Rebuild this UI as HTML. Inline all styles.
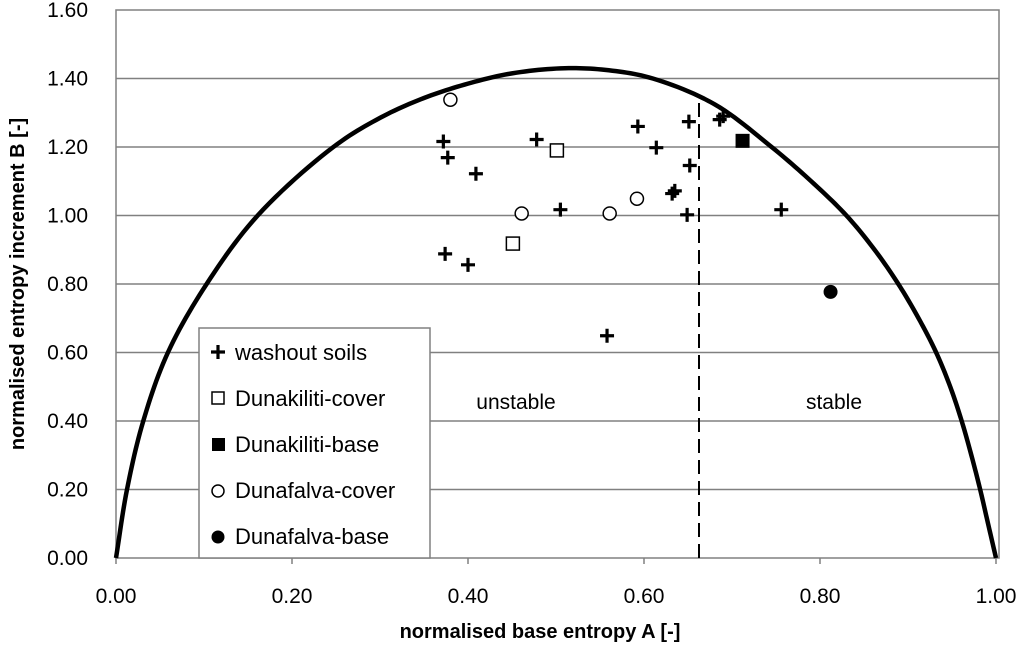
<!DOCTYPE html>
<html><head><meta charset="utf-8"><style>
html,body{margin:0;padding:0;background:#fff;}
svg text{font-family:"Liberation Sans",sans-serif;fill:#000;}
</style></head><body>
<svg id="chart" width="1024" height="651" viewBox="0 0 1024 651" xmlns="http://www.w3.org/2000/svg"></svg>
<script>
const yTicks=[0,0.2,0.4,0.6,0.8,1.0,1.2,1.4,1.6];
const xTicks=[0,0.2,0.4,0.6,0.8,1.0];
const curveA=[0,0.0125,0.031,0.059,0.103,0.161,0.247,0.30,0.35,0.40,0.45,0.51,0.56,0.61,0.68,0.745,0.790,0.830,0.862,0.889,0.912,0.932,0.948,0.961,0.972,0.982,0.991,1.0];
const curveB=[0,0.2,0.4,0.6,0.8,1.0,1.2,1.285,1.343,1.385,1.415,1.43,1.424,1.40,1.325,1.2,1.1,1.0,0.9,0.8,0.7,0.6,0.5,0.4,0.3,0.2,0.1,0];
const washA=[0.372,0.377,0.409,0.478,0.593,0.614,0.651,0.686,0.690,0.652,0.632,0.635,0.505,0.649,0.374,0.400,0.756,0.558];
const washB=[1.216,1.169,1.122,1.222,1.260,1.198,1.274,1.280,1.290,1.146,1.064,1.072,1.017,1.002,0.888,0.856,1.017,0.649];
const dkCoverA=[0.501,0.451], dkCoverB=[1.19,0.918];
const dkBaseA=[0.712], dkBaseB=[1.218];
const dfCoverA=[0.380,0.461,0.561,0.592], dfCoverB=[1.338,1.006,1.006,1.049];
const dfBaseA=[0.812], dfBaseB=[0.777];
const stableA=0.6625, stableTop=1.33;

const X0=116,X1=996,Y0=558,Y1=10;
const sx=a=>X0+(X1-X0)*a;
const sy=b=>Y0-(Y0-Y1)*b/1.6;
const svg=document.getElementById('chart');
const NS='http://www.w3.org/2000/svg';
function mk(t,at,p){const e=document.createElementNS(NS,t);for(const k in at)e.setAttribute(k,at[k]);(p||svg).appendChild(e);return e;}

yTicks.forEach(v=>{
  if(v<1.6&&v>0){const g=mk('line',{x1:X0,x2:999,y1:sy(v),y2:sy(v),stroke:'#808080','stroke-width':1.5});
  
  }
  const t=mk('text',{x:88,y:sy(v)+7,'text-anchor':'end','font-size':21});
  t.textContent=v.toFixed(2);
  
  
});
const frame=mk('rect',{x:X0,y:10,width:999-X0,height:Y0-10,fill:'none',stroke:'#808080','stroke-width':1.5});


xTicks.forEach(v=>{
  const tk=mk('line',{x1:sx(v),x2:sx(v),y1:Y0,y2:Y0+6,stroke:'#808080','stroke-width':1.5});
  
  
  const t=mk('text',{x:sx(v),y:603,'text-anchor':'middle','font-size':21});
  t.textContent=v.toFixed(2);
  
  
});
const P=curveA.map((a,i)=>[sx(a),sy(curveB[i])]);
function crPoint(p0,p1,p2,p3,t){
  const td=(a,b)=>Math.pow(Math.hypot(b[0]-a[0],b[1]-a[1]),0.5)||1e-4;
  const t0=0,t1=t0+td(p0,p1),t2=t1+td(p1,p2),t3=t2+td(p2,p3);
  const tt=t1+(t2-t1)*t;
  const L=(a,b,ta,tb)=>[a[0]*(tb-tt)/(tb-ta)+b[0]*(tt-ta)/(tb-ta),a[1]*(tb-tt)/(tb-ta)+b[1]*(tt-ta)/(tb-ta)];
  const A1=L(p0,p1,t0,t1),A2=L(p1,p2,t1,t2),A3=L(p2,p3,t2,t3);
  const B1=L(A1,A2,t0,t2),B2=L(A2,A3,t1,t3);
  return L(B1,B2,t1,t2);
}
let pts=[P[0]];
for(let i=0;i<P.length-1;i++){
  const p0=i>0?P[i-1]:[2*P[0][0]-P[1][0],2*P[0][1]-P[1][1]];
  const p3=i+2<P.length?P[i+2]:[2*P[i+1][0]-P[i][0],2*P[i+1][1]-P[i][1]];
  for(let k=1;k<=12;k++)pts.push(crPoint(p0,P[i],P[i+1],p3,k/12));
}
const c=mk('polyline',{points:pts.map(p=>p[0].toFixed(2)+','+p[1].toFixed(2)).join(' '),fill:'none',stroke:'#000','stroke-width':4.5,'stroke-linejoin':'round'});


const dl=mk('line',{x1:sx(stableA),x2:sx(stableA),y1:Y0,y2:sy(stableTop),stroke:'#000','stroke-width':2,'stroke-dasharray':'14,7'});



function cross(x,y,p){return mk('path',{d:`M${x-7},${y}H${x+7}M${x},${y-7}V${y+7}`,stroke:'#000','stroke-width':3.2,fill:'none'},p);}
washA.forEach((a,i)=>{const e=cross(sx(a),sy(washB[i]));
 
 });
dkCoverA.forEach((a,i)=>{const e=mk('rect',{x:sx(a)-6.5,y:sy(dkCoverB[i])-6.5,width:13,height:13,fill:'#fff',stroke:'#000','stroke-width':1.5});
 
 });
dkBaseA.forEach((a,i)=>{const e=mk('rect',{x:sx(a)-7,y:sy(dkBaseB[i])-7,width:14,height:14,fill:'#000'});
 
 });
dfCoverA.forEach((a,i)=>{const e=mk('circle',{cx:sx(a),cy:sy(dfCoverB[i]),r:6.5,fill:'#fff',stroke:'#000','stroke-width':1.5});
 
 });
dfBaseA.forEach((a,i)=>{const e=mk('circle',{cx:sx(a),cy:sy(dfBaseB[i]),r:7,fill:'#000'});
 
 });

let t=mk('text',{x:516,y:409,'text-anchor':'middle','font-size':21});t.textContent='unstable';


t=mk('text',{x:834,y:409,'text-anchor':'middle','font-size':21});t.textContent='stable';



const lg=mk('g',{});


mk('rect',{x:199,y:328,width:231,height:230,fill:'#fff',stroke:'#808080','stroke-width':1.5},lg);
const names=['washout soils','Dunakiliti-cover','Dunakiliti-base','Dunafalva-cover','Dunafalva-base'];
names.forEach((n,i)=>{const y=352+i*46;const g=mk('g',{},lg);
 
 
 if(i==0)cross(218,y,g);
 if(i==1)mk('rect',{x:212,y:y-6,width:12,height:12,fill:'#fff',stroke:'#000','stroke-width':1.5},g);
 if(i==2)mk('rect',{x:212,y:y-6,width:13,height:13,fill:'#000'},g);
 if(i==3)mk('circle',{cx:218,cy:y+1,r:6,fill:'#fff',stroke:'#000','stroke-width':1.5},g);
 if(i==4)mk('circle',{cx:218,cy:y+1,r:6.5,fill:'#000'},g);
 const tx=mk('text',{x:235,y:y+8,'font-size':22},g);tx.textContent=n;});

t=mk('text',{x:540,y:638,'text-anchor':'middle','font-size':20,'font-weight':'bold'});t.textContent='normalised base entropy A [-]';


t=mk('text',{x:0,y:0,'text-anchor':'middle','font-size':20,'font-weight':'bold',transform:'translate(24,284) rotate(-90)'});t.textContent='normalised entropy increment B [-]';


</script>
</body></html>
